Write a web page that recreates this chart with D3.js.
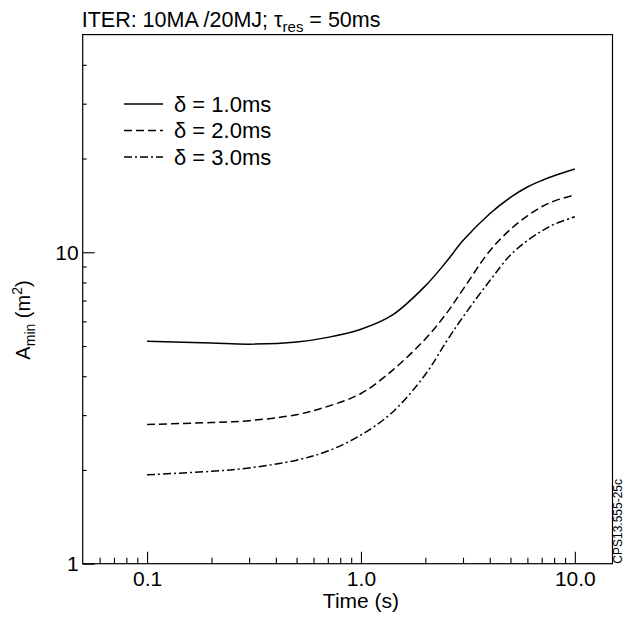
<!DOCTYPE html>
<html>
<head>
<meta charset="UTF-8">
<style>
  body { margin: 0; background: #fff; }
  svg { display: block; font-family: "Liberation Sans", Arial, sans-serif; }
</style>
</head>
<body>
<svg></svg>
<script src="https://d3js.org/d3.v7.min.js"></script>
<script>
let width = 624, height = 619;
let margin = {top: 34.6, right: 11.5, bottom: 55.3, left: 82.7};

// values
let times  = [0.1, 0.2, 0.3, 0.5, 0.7, 1.0, 1.4, 2.0, 2.5, 3.0, 4.0, 5.0, 6.0, 7.0, 8.0, 10.0];
let delta1 = [5.18, 5.11, 5.07, 5.15, 5.33, 5.66, 6.28, 7.8, 9.3, 10.9, 13.3, 15.0, 16.2, 17.0, 17.6, 18.5];
let delta2 = [2.80, 2.84, 2.88, 3.01, 3.20, 3.52, 4.17, 5.27, 6.34, 7.6, 10.1, 11.85, 13.08, 14.0, 14.6, 15.3];
let delta3 = [1.93, 1.98, 2.03, 2.15, 2.30, 2.59, 3.06, 4.05, 5.15, 6.2, 8.1, 9.8, 10.9, 11.7, 12.3, 13.0];
let seriesNames = ["δ = 1.0ms", "δ = 2.0ms", "δ = 3.0ms"];
let dashes = [null, "8,4", "8,3,2,3"];

let xMajor = [0.1, 1, 10];
let xMajorLabels = ["0.1", "1.0", "10.0"];
let xMinor = [0.06, 0.07, 0.08, 0.09, 0.2, 0.3, 0.4, 0.5, 0.6, 0.7, 0.8, 0.9, 2, 3, 4, 5, 6, 7, 8, 9];
let yMajor = [1, 10];
let yMajorLabels = ["1", "10"];
let yMinor = [2, 3, 4, 5, 6, 7, 8, 9, 20, 30, 40];

let svg = d3.select("svg").attr("width", width).attr("height", height);

let x = d3.scaleLog().domain([0.05, 15]).range([margin.left, width - margin.right]);
let y = d3.scaleLog().domain([1, 50]).range([height - margin.bottom, margin.top]);

// frame
svg.append("rect")
  .attr("x", x.range()[0]).attr("y", y.range()[1])
  .attr("width", x.range()[1] - x.range()[0])
  .attr("height", y.range()[0] - y.range()[1])
  .attr("fill", "none").attr("stroke", "#000").attr("stroke-width", 1.2);

// x axis
let gx = svg.append("g").attr("transform", "translate(0," + y.range()[0] + ")")
  .call(d3.axisBottom(x).tickValues(xMajor).tickSize(-12).tickPadding(7)
    .tickFormat((d, i) => xMajorLabels[i]));
svg.append("g").attr("transform", "translate(0," + y.range()[0] + ")")
  .call(d3.axisBottom(x).tickValues(xMinor).tickSize(-6).tickFormat(""));

// y axis
let gy = svg.append("g").attr("transform", "translate(" + x.range()[0] + ",0)")
  .call(d3.axisLeft(y).tickValues(yMajor).tickSize(-12).tickPadding(4)
    .tickFormat((d, i) => yMajorLabels[i]));
svg.append("g").attr("transform", "translate(" + x.range()[0] + ",0)")
  .call(d3.axisLeft(y).tickValues(yMinor).tickSize(-4).tickFormat(""));

svg.selectAll(".domain").remove();
svg.selectAll(".tick line").attr("stroke", "#000").attr("stroke-width", 1.1);
svg.selectAll(".tick text")
  .attr("font-family", "Liberation Sans, Arial, sans-serif")
  .attr("font-size", 21).attr("fill", "#000");
gy.selectAll(".tick text").attr("dy", "0.32em");

// curves
let allSeries = [delta1, delta2, delta3];
let line = d3.line()
  .x((d, i) => x(times[i]))
  .y(d => y(d))
  .curve(d3.curveCatmullRom.alpha(0.5));

allSeries.forEach((s, k) => {
  svg.append("path")
    .attr("d", line(s))
    .attr("fill", "none")
    .attr("stroke", "#000")
    .attr("stroke-width", 1.5)
    .attr("stroke-dasharray", dashes[k]);
});

// legend
let legend = svg.append("g");
seriesNames.forEach((name, k) => {
  let ly = 104 + k * 26.5;
  legend.append("line")
    .attr("x1", 124).attr("x2", 163).attr("y1", ly).attr("y2", ly)
    .attr("stroke", "#000").attr("stroke-width", 1.5)
    .attr("stroke-dasharray", dashes[k]);
  legend.append("text")
    .attr("x", 174).attr("y", ly).attr("dy", "0.35em")
    .attr("font-size", 22)
    .text(name);
});

// title
let title = svg.append("text").attr("x", margin.left - 1).attr("y", 27).attr("font-size", 21.5);
title.append("tspan").text("ITER: 10MA /20MJ; τ");
title.append("tspan").attr("font-size", 15).attr("dy", 5).text("res");
title.append("tspan").attr("dy", -5).text(" = 50ms");

// y label
let ylab = svg.append("text")
  .attr("transform", "translate(30,320) rotate(-90)")
  .attr("text-anchor", "middle").attr("font-size", 20);
ylab.append("tspan").text("A");
ylab.append("tspan").attr("font-size", 14).attr("dy", 5).text("min");
ylab.append("tspan").attr("dy", -5).text(" (m");
ylab.append("tspan").attr("font-size", 14).attr("dy", -8).text("2");
ylab.append("tspan").attr("dy", 8).text(")");

// x label
svg.append("text")
  .attr("x", x(1)).attr("y", 608)
  .attr("text-anchor", "middle").attr("font-size", 21)
  .text("Time (s)");

// figure id
svg.append("text")
  .attr("transform", "translate(622," + y.range()[0] + ") rotate(-90)")
  .attr("font-size", 12)
  .text("CPS13.555-25c");
</script>
</body>
</html>
